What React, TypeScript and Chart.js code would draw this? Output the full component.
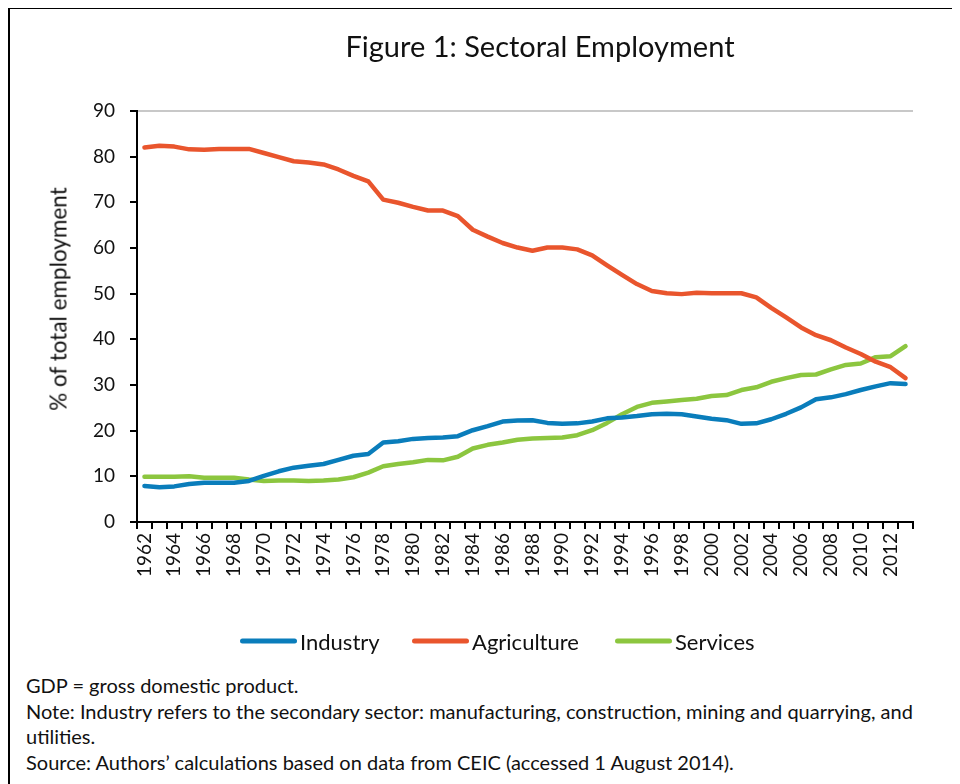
import React, { useEffect, useRef } from "react";
import { Chart, registerables } from "chart.js";

Chart.register(...registerables);

const years: string[] = [];
for (let y = 1962; y <= 2013; y++) years.push(String(y));

const industry = [
  7.9, 7.6, 7.8, 8.3, 8.6, 8.6, 8.6, 9.0,
  10.1, 11.1, 11.9, 12.3, 12.7, 13.6, 14.5, 14.9, 17.4, 17.7,
  18.2, 18.4, 18.5, 18.8, 20.1, 21.0, 22.0, 22.2, 22.3, 21.7,
  21.5, 21.6, 22.0, 22.7, 22.9, 23.2, 23.6, 23.7, 23.6, 23.1,
  22.6, 22.3, 21.5, 21.6, 22.5, 23.7, 25.1, 26.9, 27.3, 28.0,
  28.9, 29.7, 30.4, 30.2,
];

const agriculture = [
  82.0, 82.4, 82.2, 81.6, 81.5, 81.7, 81.7, 81.7,
  80.8, 79.9, 79.0, 78.7, 78.3, 77.2, 75.8, 74.6, 70.6, 69.9,
  69.0, 68.2, 68.2, 67.0, 64.0, 62.5, 61.1, 60.1, 59.4, 60.1,
  60.1, 59.7, 58.4, 56.2, 54.1, 52.1, 50.6, 50.1, 49.9, 50.2,
  50.1, 50.1, 50.1, 49.2, 46.9, 44.8, 42.6, 40.9, 39.8, 38.2,
  36.8, 35.1, 33.9, 31.5,
];

const services = [
  9.9, 9.9, 9.9, 10.0, 9.7, 9.7, 9.7, 9.3,
  9.0, 9.1, 9.1, 9.0, 9.1, 9.3, 9.8, 10.8, 12.2, 12.7,
  13.1, 13.6, 13.5, 14.3, 16.1, 16.9, 17.4, 18.0, 18.3, 18.4,
  18.5, 19.0, 20.1, 21.7, 23.6, 25.2, 26.1, 26.4, 26.7, 27.0,
  27.6, 27.8, 28.9, 29.5, 30.7, 31.5, 32.2, 32.3, 33.4, 34.4,
  34.7, 36.1, 36.3, 38.5,
];

const yTicks = [0, 10, 20, 30, 40, 50, 60, 70, 80, 90];

const seriesNames = ["Industry", "Agriculture", "Services"];
const seriesColors = ["#0A7DBB", "#E9552D", "#8CC63F"];

const FONT = "Lato, 'Open Sans', sans-serif";

const W = 944;
const H = 620;

export default function App() {
  const ref = useRef<HTMLCanvasElement | null>(null);

  useEffect(() => {
    if (!ref.current) return;
    const seriesData = [industry, agriculture, services];
    const chart = new Chart(ref.current, {
      type: "line",
      data: {
        labels: years,
        datasets: seriesNames.map((name, i) => ({
          label: name,
          data: seriesData[i],
          borderColor: seriesColors[i],
          backgroundColor: seriesColors[i],
          borderWidth: 4.5,
          pointRadius: 0,
          tension: 0,
          borderCapStyle: "round" as const,
          borderJoinStyle: "round" as const,
          fill: false,
        })),
      },
      options: {
        animation: false,
        responsive: false,
        devicePixelRatio: 1,
        layout: { padding: { top: 103, right: 39, left: 0, bottom: 0 } },
        plugins: {
          legend: { display: false },
          tooltip: { enabled: false },
          title: { display: false },
        },
        scales: {
          x: {
            type: "category",
            offset: true,
            afterFit: (scale: any) => {
              scale.height = H - 514;
            },
            grid: {
              offset: true,
              drawOnChartArea: true,
              color: (ctx: any) => (ctx.index === years.length ? "#c8c8c8" : "rgba(0,0,0,0)"),
              tickColor: "#000",
              tickLength: 7,
              lineWidth: 2,
            },
            border: { color: "#000", width: 2 },
            ticks: {
              autoSkip: false,
              maxRotation: 90,
              minRotation: 90,
              padding: 4,
              color: "#111",
              font: { family: FONT, size: 19 },
              callback: (_v: any, idx: number) => (idx % 2 === 0 ? years[idx] : ""),
            },
          },
          y: {
            min: 0,
            max: 90,
            afterFit: (scale: any) => {
              scale.width = 129;
            },
            afterBuildTicks: (scale: any) => {
              scale.ticks = yTicks.map((v) => ({ value: v }));
            },
            grid: {
              color: (ctx: any) => (ctx.tick && ctx.tick.value === 90 ? "#c8c8c8" : "rgba(0,0,0,0)"),
              tickColor: "#000",
              tickLength: 7,
              lineWidth: 2,
            },
            border: { color: "#000", width: 2 },
            ticks: {
              padding: 15,
              color: "#111",
              font: { family: FONT, size: 19 },
            },
          },
        },
      },
    });
    return () => chart.destroy();
  }, []);

  const legendX = [232, 404, 607];

  return (
    <div style={{ position: "relative", width: W, height: 776, fontFamily: FONT, color: "#111" }}>
      <div style={{ position: "absolute", left: 0, top: -1, width: 947, height: 2, background: "#000" }} />
      <div style={{ position: "absolute", left: 0, top: -1, width: 2, height: 777, background: "#000" }} />
      <canvas
        ref={ref}
        width={W}
        height={H}
        style={{ position: "absolute", left: 0, top: 0, width: W, height: H }}
      />
      <div
        style={{
          position: "absolute",
          left: 532,
          top: 37,
          transform: "translate(-50%, -50%)",
          fontSize: 29,
          whiteSpace: "nowrap",
        }}
      >
        Figure 1: Sectoral Employment
      </div>
      <div
        style={{
          position: "absolute",
          left: 50,
          top: 291,
          transform: "translate(-50%, -50%) rotate(-90deg)",
          fontSize: 22.5,
          whiteSpace: "nowrap",
        }}
      >
        % of total employment
      </div>
      {seriesNames.map((name, i) => (
        <div
          key={name}
          style={{
            position: "absolute",
            left: legendX[i],
            top: 633,
            transform: "translateY(-50%)",
            display: "flex",
            alignItems: "center",
            whiteSpace: "nowrap",
            fontSize: 22,
          }}
        >
          <span
            style={{
              display: "inline-block",
              width: 57,
              height: 5,
              borderRadius: 3,
              background: seriesColors[i],
              marginRight: 3,
            }}
          />
          <span>{name}</span>
        </div>
      ))}
      <div
        style={{
          position: "absolute",
          left: 18,
          top: 665,
          width: 930,
          fontSize: 20,
          lineHeight: "25.5px",
          whiteSpace: "nowrap",
        }}
      >
        <div>GDP = gross domestic product.</div>
        <div>
          Note: Industry refers to the secondary sector: manufacturing, construction, mining and quarrying, and
        </div>
        <div>utilities.</div>
        <div>Source: Authors’ calculations based on data from CEIC (accessed 1 August 2014).</div>
      </div>
    </div>
  );
}
